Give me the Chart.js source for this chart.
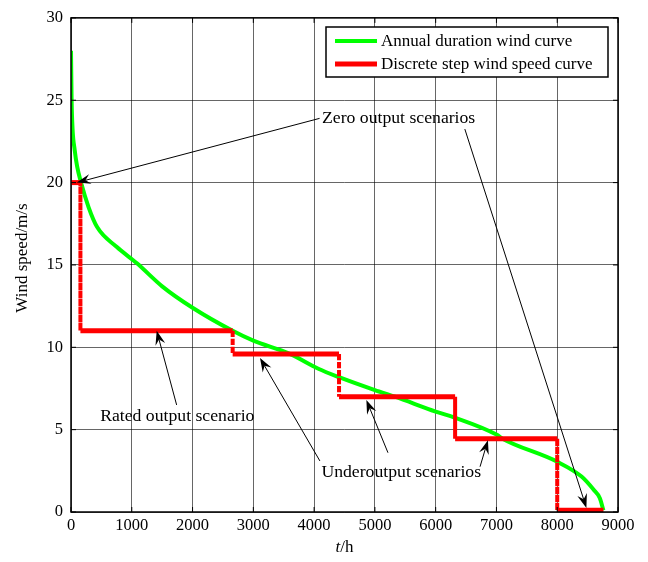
<!DOCTYPE html>
<html>
<head>
<meta charset="utf-8">
<script src="https://cdn.jsdelivr.net/npm/chart.js@4/dist/chart.umd.min.js"></script>
<style>
  html, body { margin: 0; padding: 0; background: #fff; }
  #wrap { width: 648px; height: 562px; }
</style>
</head>
<body>
<div id="wrap"><canvas id="c" width="648" height="562"></canvas></div>
<script>
// annual duration wind curve (hours, m/s)
var durationHours = [0, 10, 25, 60, 100, 165, 290, 430, 750, 1085, 1500, 2000, 2660, 3000, 3600, 4070, 4400, 5000, 5330, 6000, 6300, 7000, 7100, 8000, 8400, 8600, 8700, 8760];
var durationSpeed = [28, 25, 23.3, 22, 21, 20, 18.5, 17.3, 16.1, 15.1, 13.7, 12.4, 11.0, 10.4, 9.6, 8.7, 8.2, 7.4, 7.0, 6.1, 5.75, 4.7, 4.45, 3.05, 2.15, 1.35, 0.85, 0.1];

// discrete step wind speed curve
var stepHours = [0, 155, 155, 2660, 2660, 4410, 4410, 6320, 6320, 8000, 8000, 8760];
var stepSpeed = [20, 20, 11, 11, 9.6, 9.6, 7, 7, 4.45, 4.45, 0.1, 0.1];

var xTicks = [0, 1000, 2000, 3000, 4000, 5000, 6000, 7000, 8000, 9000];
var yTicks = [0, 5, 10, 15, 20, 25, 30];

var legendLabels = ["Annual duration wind curve", "Discrete step wind speed curve"];

// annotation labels: text, left x (h), y (m/s)
var noteText = ["Zero output scenarios", "Rated output scenario", "Underoutput scenarios"];
var noteX = [4130, 480, 4120];
var noteY = [23.9, 5.8, 2.4];
// arrows: from (h, m/s) to tip (h, m/s)
var arrowFromX = [4090, 6480, 1738, 4095, 5215, 6730];
var arrowFromY = [23.9, 23.25, 6.5, 3.1, 3.6, 2.75];
var arrowToX = [95, 8480, 1410, 3110, 4860, 6860];
var arrowToY = [20.0, 0.25, 11.0, 9.35, 6.8, 4.36];

var FONT = '"Liberation Serif", "Times New Roman", serif';

function pts(xs, ys) {
  return xs.map(function (x, i) { return { x: x, y: ys[i] }; });
}

function arrow(ctx, x0, y0, x1, y1) {
  var a = Math.atan2(y1 - y0, x1 - x0);
  var len = 14, hw = 5, notch = 9;
  ctx.beginPath();
  ctx.moveTo(x0, y0);
  ctx.lineTo(x1 - Math.cos(a) * notch, y1 - Math.sin(a) * notch);
  ctx.stroke();
  ctx.beginPath();
  ctx.moveTo(x1, y1);
  ctx.lineTo(x1 - Math.cos(a) * len - Math.sin(a) * hw, y1 - Math.sin(a) * len + Math.cos(a) * hw);
  ctx.lineTo(x1 - Math.cos(a) * notch, y1 - Math.sin(a) * notch);
  ctx.lineTo(x1 - Math.cos(a) * len + Math.sin(a) * hw, y1 - Math.sin(a) * len - Math.cos(a) * hw);
  ctx.closePath();
  ctx.fill();
}

var decor = {
  id: "decor",
  afterDatasetsDraw: function (chart) {
    var ctx = chart.ctx, a = chart.chartArea;
    var xs = chart.scales.x, ys = chart.scales.y;
    ctx.save();

    // box + inside ticks
    ctx.strokeStyle = "#000";
    ctx.lineWidth = 1.5;
    ctx.strokeRect(a.left, a.top, a.right - a.left, a.bottom - a.top);
    ctx.lineWidth = 1;
    ctx.beginPath();
    xTicks.forEach(function (t) {
      var px = xs.getPixelForValue(t);
      ctx.moveTo(px, a.bottom); ctx.lineTo(px, a.bottom - 5);
      ctx.moveTo(px, a.top); ctx.lineTo(px, a.top + 5);
    });
    yTicks.forEach(function (t) {
      var py = ys.getPixelForValue(t);
      ctx.moveTo(a.left, py); ctx.lineTo(a.left + 5, py);
      ctx.moveTo(a.right, py); ctx.lineTo(a.right - 5, py);
    });
    ctx.stroke();

    // annotations
    ctx.fillStyle = "#000";
    ctx.strokeStyle = "#000";
    ctx.lineWidth = 1;
    for (var i = 0; i < arrowFromX.length; i++) {
      arrow(ctx, xs.getPixelForValue(arrowFromX[i]), ys.getPixelForValue(arrowFromY[i]),
            xs.getPixelForValue(arrowToX[i]), ys.getPixelForValue(arrowToY[i]));
    }
    ctx.font = "17.7px " + FONT;
    ctx.textBaseline = "middle";
    ctx.textAlign = "left";
    noteText.forEach(function (t, i) {
      ctx.fillText(t, xs.getPixelForValue(noteX[i]), ys.getPixelForValue(noteY[i]));
    });

    // legend
    var lx = 326, ly = 27, lw = 282, lh = 50;
    ctx.fillStyle = "#fff";
    ctx.fillRect(lx, ly, lw, lh);
    ctx.lineWidth = 1.5;
    ctx.strokeStyle = "#000";
    ctx.strokeRect(lx, ly, lw, lh);
    ctx.font = "17px " + FONT;
    var colors = ["#00ff00", "#ff0000"];
    legendLabels.forEach(function (t, i) {
      var yy = ly + 14 + i * 23;
      ctx.strokeStyle = colors[i];
      ctx.lineWidth = i === 0 ? 4 : 5;
      ctx.beginPath();
      ctx.moveTo(lx + 9, yy); ctx.lineTo(lx + 51, yy);
      ctx.stroke();
      ctx.fillStyle = "#000";
      ctx.fillText(t, lx + 55, yy + 1);
    });

    // axis titles
    ctx.fillStyle = "#000";
    ctx.textAlign = "left";
    ctx.font = "italic 17px " + FONT;
    var tw = ctx.measureText("t").width;
    ctx.font = "17px " + FONT;
    var hw = ctx.measureText("/h").width;
    var cx = (a.left + a.right) / 2 - (tw + hw) / 2;
    ctx.font = "italic 17px " + FONT;
    ctx.fillText("t", cx, 548);
    ctx.font = "17px " + FONT;
    ctx.fillText("/h", cx + tw, 548);

    ctx.translate(23, 258);
    ctx.rotate(-Math.PI / 2);
    ctx.textAlign = "center";
    ctx.fillText("Wind speed/m/s", 0, 0);
    ctx.restore();
  }
};

function plain(v) { return String(v); }

new Chart(document.getElementById("c"), {
  type: "scatter",
  data: {
    datasets: [
      {
        label: legendLabels[0],
        data: pts(durationHours, durationSpeed),
        showLine: true,
        borderColor: "#00ff00",
        borderWidth: 4,
        pointRadius: 0,
        cubicInterpolationMode: "monotone",
        order: 2
      },
      {
        label: legendLabels[1],
        data: pts(stepHours, stepSpeed),
        showLine: true,
        borderColor: "#ff0000",
        borderWidth: 5,
        pointRadius: 0,
        borderCapStyle: "butt",
        segment: {
          borderDash: function (c) { return c.p0.parsed.x === c.p1.parsed.x ? [4, 4] : undefined; },
          borderWidth: function (c) { return c.p0.parsed.x === c.p1.parsed.x ? 4 : 5; }
        },
        order: 1
      }
    ]
  },
  options: {
    responsive: false,
    animation: false,
    layout: { padding: { left: 0, top: 17, right: 30, bottom: 0 } },
    plugins: { legend: { display: false }, tooltip: { enabled: false } },
    scales: {
      x: {
        type: "linear",
        min: 0, max: 9000,
        afterFit: function (s) { s.height = 50; },
        afterBuildTicks: function (s) { s.ticks = xTicks.map(function (v) { return { value: v }; }); },
        grid: { color: "rgba(0,0,0,0.6)", borderDash: [1, 1], drawTicks: false, lineWidth: 1 },
        border: { display: false },
        ticks: { color: "#000", font: { family: FONT, size: 16.5 }, padding: 4, maxRotation: 0, callback: plain }
      },
      y: {
        type: "linear",
        min: 0, max: 30,
        afterFit: function (s) { s.width = 71; },
        afterBuildTicks: function (s) { s.ticks = yTicks.map(function (v) { return { value: v }; }); },
        grid: { color: "rgba(0,0,0,0.6)", borderDash: [1, 1], drawTicks: false, lineWidth: 1 },
        border: { display: false },
        ticks: { color: "#000", font: { family: FONT, size: 16.5 }, padding: 8, callback: plain }
      }
    }
  },
  plugins: [decor]
});
</script>
</body>
</html>
